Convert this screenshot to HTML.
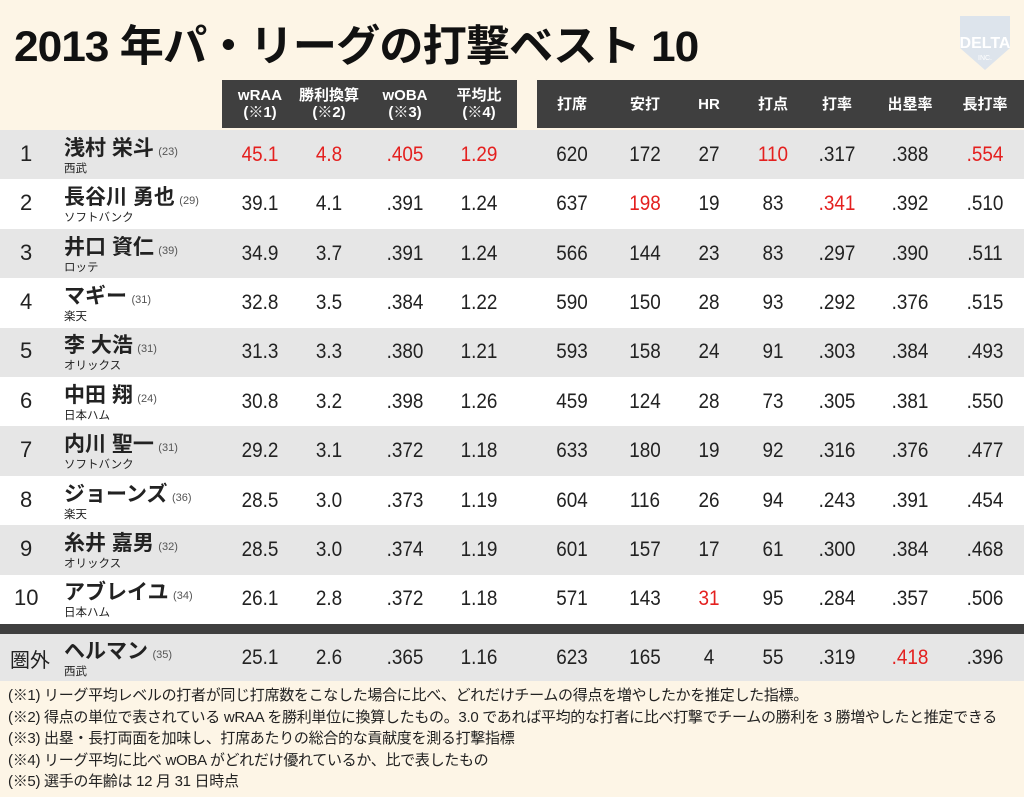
<!DOCTYPE html>
<html><head><meta charset="utf-8"><style>
body{margin:0;width:1024px;height:797px;background:#fdf5e6;position:relative;overflow:hidden;font-family:"Liberation Sans","Noto Sans CJK JP",sans-serif;color:#222}
.a{position:absolute}
.hb{background:#3f3f3f;color:#fff}
.hc{position:absolute;text-align:center;font-weight:bold;font-size:15px;line-height:17px;transform:translateX(-50%);white-space:nowrap}
.v{position:absolute;font-size:21px;transform:translate(-50%,-50%) scaleX(0.9);white-space:nowrap}
.r{color:#e4201f}
</style></head><body>
<div class="a" style="left:14px;top:12px;font-size:43px;font-weight:bold;letter-spacing:-1px;color:#111;transform:scaleX(1.03);transform-origin:left">2013 年パ・リーグの打撃ベスト 10</div>
<svg class="a" style="left:952px;top:8px" width="66" height="64"><path d="M8 8 L58 8 L58 40 L33 62 L8 40 Z" fill="#dde4ec"/><text x="33" y="40" font-size="16" font-weight="bold" fill="#fff" text-anchor="middle" font-family="Liberation Sans">DELTA</text><text x="33" y="52" font-size="7" fill="#fff" text-anchor="middle">INC.</text></svg>
<div class="a hb" style="left:222px;top:80px;width:295px;height:48px"></div>
<div class="a hb" style="left:537px;top:80px;width:487px;height:48px"></div>
<div id="tbl"></div>
<div class="a" style="left:0;top:624px;width:1024px;height:10px;background:#3f3f3f"></div>
<div class="a" style="left:8px;top:685px;font-size:15px;line-height:21.5px;color:#222;letter-spacing:-0.3px;white-space:nowrap">
<div>(※1) リーグ平均レベルの打者が同じ打席数をこなした場合に比べ、どれだけチームの得点を増やしたかを推定した指標。</div>
<div>(※2) 得点の単位で表されている wRAA を勝利単位に換算したもの。3.0 であれば平均的な打者に比べ打撃でチームの勝利を 3 勝増やしたと推定できる</div>
<div>(※3) 出塁・長打両面を加味し、打席あたりの総合的な貢献度を測る打撃指標</div>
<div>(※4) リーグ平均に比べ wOBA がどれだけ優れているか、比で表したもの</div>
<div>(※5) 選手の年齢は 12 月 31 日時点</div>
</div>
<script>
const ranks=["1","2","3","4","5","6","7","8","9","10","圏外"];
const names=["浅村 栄斗","長谷川 勇也","井口 資仁","マギー","李 大浩","中田 翔","内川 聖一","ジョーンズ","糸井 嘉男","アブレイユ","ヘルマン"];
const ages=[23,29,39,31,31,24,31,36,32,34,35];
const teams=["西武","ソフトバンク","ロッテ","楽天","オリックス","日本ハム","ソフトバンク","楽天","オリックス","日本ハム","西武"];
const wraa=["45.1","39.1","34.9","32.8","31.3","30.8","29.2","28.5","28.5","26.1","25.1"];
const wins=["4.8","4.1","3.7","3.5","3.3","3.2","3.1","3.0","3.0","2.8","2.6"];
const woba=[".405",".391",".391",".384",".380",".398",".372",".373",".374",".372",".365"];
const ratio=["1.29","1.24","1.24","1.22","1.21","1.26","1.18","1.19","1.19","1.18","1.16"];
const pa=[620,637,566,590,593,459,633,604,601,571,623];
const hits=[172,198,144,150,158,124,180,116,157,143,165];
const hr=[27,19,23,28,24,28,19,26,17,31,4];
const rbi=[110,83,83,93,91,73,92,94,61,95,55];
const avg=[".317",".341",".297",".292",".303",".305",".316",".243",".300",".284",".319"];
const obp=[".388",".392",".390",".376",".384",".381",".376",".391",".384",".357",".418"];
const slg=[".554",".510",".511",".515",".493",".550",".477",".454",".468",".506",".396"];
const headers=["wRAA<br>(※1)","勝利換算<br>(※2)","wOBA<br>(※3)","平均比<br>(※4)","打席","安打","HR","打点","打率","出塁率","長打率"];
const cols=[wraa,wins,woba,ratio,pa,hits,hr,rbi,avg,obp,slg];
const colX=[260,329,405,479,572,645,709,773,837,910,985];
const hl=[[0,0],[0,1],[0,2],[0,3],[0,7],[0,10],[1,5],[1,8],[9,6],[10,9]];
const T=document.getElementById('tbl');
headers.forEach((h,i)=>{const d=document.createElement('div');d.className='hc';d.style.left=colX[i]+'px';d.style.top=(i<4?87:96)+'px';d.style.color='#fff';d.innerHTML=h;


T.appendChild(d);});
ranks.forEach((rk,r)=>{
 const top=r<10?130+r*49.4:634;const h=r<10?49.4:47;const cy=top+h/2;
 const row=document.createElement('div');row.className='a';row.style.cssText=`left:0;top:${top}px;width:1024px;height:${h}px;background:${r%2==0?'#e6e6e6':'#fff'}`;
 
 
 T.appendChild(row);
 const rd=document.createElement('div');rd.className='a';rd.textContent=rk;rd.style.cssText=`left:${r==10?10:(r==9?14:20)}px;top:${cy-14}px;font-size:${r==10?20:22}px;`;
 
 
 T.appendChild(rd);
 const nm=document.createElement('div');nm.className='a';nm.style.cssText=`left:64px;top:${cy-23}px;white-space:nowrap`;
 nm.innerHTML=`<span style="font-size:21px;font-weight:bold">${names[r]}</span> <span style="font-size:11px;color:#555">(${ages[r]})</span><div style="font-size:11.5px;margin-top:-2px">${teams[r]}</div>`;
 
 
 T.appendChild(nm);
 cols.forEach((c,ci)=>{const v=document.createElement('div');v.className='v';v.textContent=c[r];v.style.left=colX[ci]+'px';v.style.top=cy+'px';
  if(hl.some(p=>p[0]==r&&p[1]==ci))v.classList.add('r');
  
  
  T.appendChild(v);});
});
</script>
</body></html>
